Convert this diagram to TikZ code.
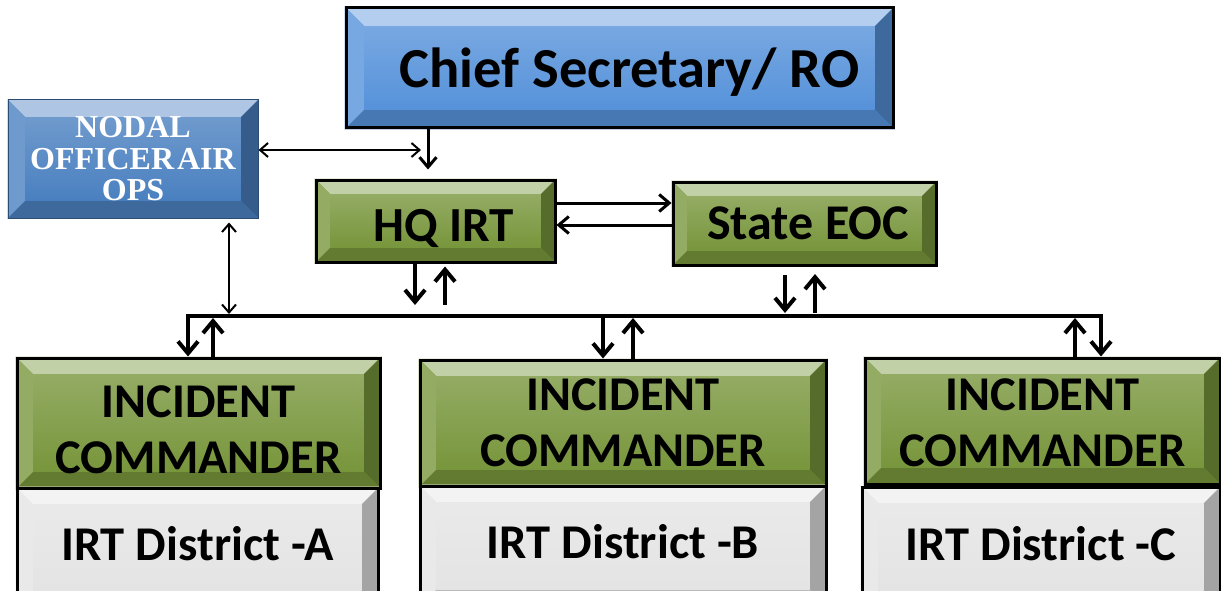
\documentclass[tikz,border=0pt]{standalone}
\usepackage{fontspec}
\setmainfont{Carlito}
\newfontfamily\nodalfont{Liberation Serif}
\usetikzlibrary{arrows.meta,calc,backgrounds}
\definecolor{bluebase}{RGB}{86,146,218}
\definecolor{bluenodal}{RGB}{74,128,192}
\definecolor{greenbase}{RGB}{120,150,60}
\definecolor{graybase}{RGB}{228,228,228}
\newcommand\bevelfill[3]{%
  \begin{pgfonlayer}{background}
    \fill[#2] (#1.north west) rectangle (#1.south east);
    \fill[#2!45!white] (#1.north west) -- (#1.north east) -- ($(#1.north east)+(-#3,#3)$) -- ($(#1.north west)+(#3,#3)$) -- cycle;
    \fill[#2!80!white] (#1.north west) -- ($(#1.north west)+(#3,#3)$) -- ($(#1.south west)+(#3,-#3)$) -- (#1.south west) -- cycle;
    \fill[#2!72!black] (#1.north east) -- ($(#1.north east)+(-#3,#3)$) -- ($(#1.south east)+(-#3,-#3)$) -- (#1.south east) -- cycle;
    \fill[#2!82!black] (#1.south west) -- ($(#1.south west)+(#3,-#3)$) -- ($(#1.south east)+(-#3,-#3)$) -- (#1.south east) -- cycle;
    \shade[top color=#2!80!white, bottom color=#2] ($(#1.north west)+(#3,#3)$) rectangle ($(#1.south east)+(-#3,-#3)$);
  \end{pgfonlayer}}
\newcommand\oneline[3]{\hspace*{#1}\raisebox{#2}[0pt][0pt]{#3}}
\newcommand\twolines[3]{\raisebox{#1}[0pt][0pt]{\begin{tabular}{@{}c@{}}#2\\#3\end{tabular}}}
\tikzset{
  box/.style={draw=black, line width=3pt, inner sep=0pt, align=center, font=\bfseries},
  icfont/.style={font=\fontsize{48.5}{56}\selectfont\bfseries},
  dfont/.style={font=\fontsize{48.5}{56}\selectfont\bfseries},
  tipthin/.tip={Straight Barb[length=8pt,width=14pt,line width=2pt]},
  tipthick/.tip={Straight Barb[length=12pt,width=20pt,line width=4pt]},
  tipmid/.tip={Straight Barb[length=10pt,width=17pt,line width=3pt]},
  arr/.style={line width=4pt, -tipthick},
  midarr/.style={line width=3pt, -tipmid},
  thinarr/.style={line width=2pt, tipthin-tipthin}
}
\begin{document}
\begin{tikzpicture}[x=1pt,y=-1pt]
\useasboundingbox (0,0) rectangle (1221,591);
\clip (0,0) rectangle (1221,591);
% nodes
\node[box, minimum width=547pt, minimum height=120pt, font=\fontsize{56.5}{60}\selectfont\bfseries] (chief) at (619.5,68) {\oneline{20pt}{-20pt}{Chief Secretary/ RO}};
\node[box, draw=bluenodal!60!black, line width=1pt, minimum width=250pt, minimum height=118pt, text=white, font=\nodalfont\fontsize{32}{31.5}\selectfont\bfseries] (nodal) at (133,159) {NODAL\\OFFICER\hspace{3pt}AIR\\OPS};
\node[box, minimum width=239pt, minimum height=82pt, font=\fontsize{49}{52}\selectfont\bfseries] (hq) at (435.5,221) {\oneline{17pt}{-20pt}{HQ IRT}};
\node[box, minimum width=263pt, minimum height=83pt, font=\fontsize{50}{52}\selectfont\bfseries] (eoc) at (804.5,223.5) {\oneline{7pt}{-15.5pt}{State EOC}};
\node[box, icfont, minimum width=363pt, minimum height=130pt] (ica) at (198.5,423) {\twolines{-18pt}{INCIDENT}{COMMANDER}};
\node[box, icfont, minimum width=406pt, minimum height=126pt] (icb) at (623,423) {\twolines{-11pt}{INCIDENT}{COMMANDER}};
\node[box, icfont, minimum width=355pt, minimum height=126pt] (icc) at (1042.5,421) {\twolines{-13pt}{INCIDENT}{COMMANDER}};
\node[box, dfont, minimum width=361pt, minimum height=120pt] (da) at (197.5,548) {\oneline{0pt}{-12pt}{IRT District -A}};
\node[box, dfont, minimum width=406pt, minimum height=120pt] (db) at (623,546) {\oneline{0pt}{-12pt}{IRT District -B}};
\node[box, dfont, minimum width=358pt, minimum height=120pt] (dc) at (1041,547) {\oneline{0pt}{-13pt}{IRT District -C}};
\bevelfill{chief}{bluebase}{20}
\bevelfill{nodal}{bluenodal}{18}
\bevelfill{hq}{greenbase}{16}
\bevelfill{eoc}{greenbase}{16}
\bevelfill{ica}{greenbase}{18}
\bevelfill{icb}{greenbase}{18}
\bevelfill{icc}{greenbase}{18}
\bevelfill{da}{graybase}{18}
\bevelfill{db}{graybase}{18}
\bevelfill{dc}{graybase}{18}
% coordinates
\coordinate (n1) at (421,150);
\coordinate (busL) at (188,316);
\coordinate (busR) at (1101,316);
\coordinate (hqd) at (415,305);
\coordinate (hqu) at (445,305);
\coordinate (eocd) at (785,313);
\coordinate (eocu) at (815,313);
% connectors
\draw[thinarr] (nodal.east |- n1) -- (n1);
\draw[midarr, shorten >=9pt] (chief.south -| 428,0) -- (hq.north -| 428,0);
\draw[thinarr] ([yshift=-4pt]nodal.south -| 229,0) -- (229,314);
\draw[midarr] (hq.east |- 0,203) -- (eoc.west |- 0,203);
\draw[midarr] (eoc.west |- 0,225) -- (hq.east |- 0,225);
\draw[arr] (hq.south -| hqd) -- (hqd);
\draw[arr] (hqu) -- ([yshift=-3pt]hq.south -| hqu);
\draw[arr] (eocd |- 0,275) -- (eocd);
\draw[arr] (eocu) -- (eocu |- 0,274);
\draw[line width=4pt, tipthick-tipthick] (ica.north -| busL) -- (busL) -- (busR) -- (icc.north -| busR);
\draw[arr] (ica.north -| 213,0) -- (213,318);
\draw[arr] (603,316) -- (icb.north -| 603,0);
\draw[arr] (icb.north -| 633,0) -- (633,318);
\draw[arr] (icc.north -| 1075,0) -- (1075,318);
\end{tikzpicture}
\end{document}
